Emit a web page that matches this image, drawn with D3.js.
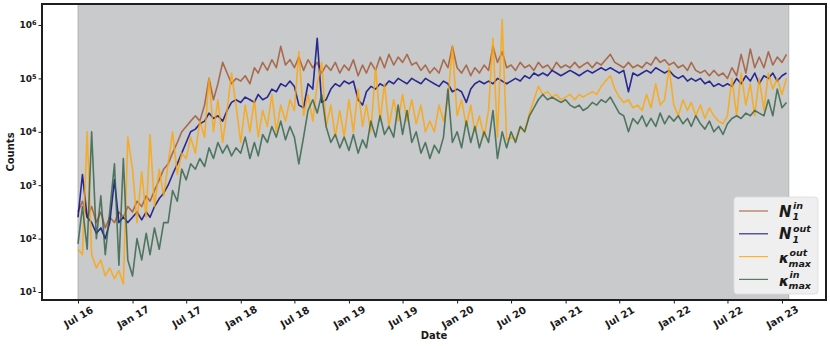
<!DOCTYPE html>
<html>
<head>
<meta charset="utf-8">
<script src="https://cdn.jsdelivr.net/npm/d3@7"></script>
<style>
  body { margin: 0; background: #fff; }
  svg text { font-family: "DejaVu Sans", sans-serif; font-weight: bold; fill: #1a1a1a; }
</style>
</head>
<body>
<svg id="chart" width="830" height="346"></svg>
<script>
// values are log10(counts), one per half month (1st and 16th), Jul 2016 .. Jan 2023
var nInExp = [
  2.5, 2.7, 2.4, 2.6, 2.3, 2.5, 2.2, 2.4, 2.3, 2.5, 2.4, 2.6,        // H2 2016
  2.5, 2.7, 2.6, 2.8, 2.7, 2.9, 3.1, 3.3, 3.4, 3.6, 3.8, 4.0,        // H1 2017
  4.1, 4.2, 4.3, 4.2, 4.5, 5.0, 4.6, 4.9, 5.3, 5.1, 4.9, 5.0,        // H2 2017
  4.95, 5.05, 4.9, 5.2, 5.1, 5.3, 5.15, 5.35, 5.2, 5.6, 5.25, 5.35,  // H1 2018
  5.2, 5.4, 5.15, 5.35, 5.2, 5.3, 5.1, 5.25, 5.15, 5.3, 5.1, 5.25,   // H2 2018
  5.15, 5.35, 5.05, 5.25, 5.1, 5.3, 5.15, 5.4, 5.2, 5.45, 5.25, 5.4, // H1 2019
  5.3, 5.45, 5.25, 5.3, 5.15, 5.25, 5.1, 5.2, 5.1, 5.35, 5.2, 5.6,   // H2 2019
  5.2, 5.1, 5.25, 5.05, 5.2, 5.1, 5.25, 5.15, 5.6, 5.3, 5.5, 5.2,    // H1 2020
  5.25, 5.15, 5.3, 5.2, 5.25, 5.15, 5.3, 5.2, 5.25, 5.15, 5.3, 5.2,  // H2 2020
  5.25, 5.2, 5.3, 5.2, 5.25, 5.3, 5.2, 5.3, 5.25, 5.35, 5.45, 5.3,   // H1 2021
  5.25, 5.2, 5.3, 5.2, 5.25, 5.2, 5.3, 5.25, 5.4, 5.3, 5.35, 5.25,   // H2 2021
  5.3, 5.2, 5.25, 5.15, 5.3, 5.15, 5.1, 5.15, 5.05, 5.15, 5.05, 5.1, // H1 2022
  5.0, 5.2, 5.05, 5.45, 5.1, 5.55, 5.2, 5.4, 5.2, 5.5, 5.25, 5.4,    // H2 2022
  5.3, 5.45                                                          // Jan 2023
];
var nOutExp = [
  2.4, 3.2, 2.4, 2.3, 2.1, 2.2, 2.0, 2.3, 3.1, 2.3, 2.4, 2.3,
  2.4, 2.5, 2.35, 2.5, 2.4, 2.6, 2.75, 2.85, 3.0, 3.2, 3.4, 3.6,
  3.8, 4.0, 4.05, 4.15, 4.2, 4.35, 4.25, 4.3, 4.2, 4.4, 4.55, 4.6,
  4.55, 4.65, 4.6, 4.55, 4.7, 4.6, 4.65, 4.8, 4.75, 4.9, 4.85, 4.95,
  4.85, 4.5, 4.45, 4.9, 4.8, 5.75, 4.55, 4.6, 4.8, 4.9, 4.85, 4.95,
  4.9, 4.95, 4.6, 4.5, 4.75, 4.85, 4.8, 4.9, 4.85, 4.95, 4.9, 5.0,
  4.95, 4.9, 5.0, 4.95, 4.9, 5.0, 4.95, 4.9, 4.85, 4.95, 4.9, 4.75,
  4.8, 4.75, 4.55, 4.8, 4.9, 4.95, 4.9, 4.95, 4.9, 5.0, 4.95, 4.9,
  4.95, 5.0, 4.95, 5.05, 5.0, 5.1, 5.05, 5.1, 5.05, 5.15, 5.1, 5.05,
  5.1, 5.15, 5.1, 5.05, 5.1, 5.15, 5.1, 5.15, 5.2, 5.15, 5.2, 5.15,
  5.1, 5.15, 4.75, 5.1, 5.05, 5.1, 5.15, 5.1, 5.2, 5.15, 5.1, 5.15,
  5.05, 5.0, 5.05, 4.95, 5.0, 4.95, 5.0, 4.9, 4.95, 4.85, 4.9, 4.85,
  4.9, 4.85, 5.0, 4.9, 5.05, 4.95, 5.1, 4.9, 5.05, 5.0, 5.1, 4.95,
  5.05, 5.1
];
var kOutExp = [
  1.8, 1.7, 4.0, 1.7, 1.45, 1.6, 1.3, 1.45, 1.25, 1.4, 1.15, 3.9,
  3.3, 2.3, 3.25, 2.4, 3.95, 2.6, 3.3, 2.8, 3.4, 4.0, 3.2, 3.6,
  3.5, 3.9, 3.6, 4.2, 3.9, 5.0, 4.0, 4.6, 3.8, 4.4, 5.1, 4.5,
  3.8, 4.5, 4.0, 4.6, 3.9, 4.4, 4.1, 4.7, 4.0, 4.5, 4.2, 4.6,
  4.4, 5.5, 4.3, 4.7, 4.2, 4.9, 5.3, 4.1, 4.5, 3.9, 4.4, 3.9,
  4.6, 4.0, 4.8, 4.1, 4.5, 4.0, 5.2, 4.2, 4.9, 4.1, 4.6, 4.2,
  4.7, 4.2, 4.6, 4.15, 4.5, 4.0, 4.2, 4.0, 4.5, 4.2, 4.6, 5.6,
  4.3, 4.6, 4.1, 4.5, 4.0, 4.3, 3.9, 4.4, 5.75, 3.9, 6.1, 3.85,
  3.9, 3.85, 4.1, 4.0, 4.35, 4.6, 4.85, 4.7, 4.75, 4.65, 4.7, 4.6,
  4.65, 4.7, 4.6, 4.7, 4.65, 4.7, 4.75, 4.7, 4.85, 4.95, 5.05, 4.8,
  4.65, 4.55, 4.6, 4.45, 4.5, 4.4, 4.7, 4.45, 4.9, 4.5, 4.6, 5.2,
  4.5, 4.3, 4.6, 4.4, 4.55, 4.3, 4.5, 4.25, 4.45, 4.3, 4.2, 4.15,
  4.3, 5.0, 4.3, 5.1, 4.5, 4.9, 4.3, 5.0, 4.4, 5.1, 4.8, 5.0,
  4.7, 5.0
];
var kInExp = [
  1.9, 2.6, 1.8, 4.0, 2.0, 2.8, 1.7, 2.5, 3.4, 1.5, 3.5, 1.6,
  1.3, 2.0, 1.6, 2.1, 1.7, 2.2, 1.8, 2.3, 2.3, 2.9, 2.7, 3.3,
  3.1, 3.4, 3.3, 3.5, 3.35, 3.7, 3.5, 3.8, 3.6, 3.75, 3.55, 3.7,
  3.6, 3.9, 3.5, 3.8, 3.55, 3.95, 3.8, 4.1, 3.9, 4.2, 3.85, 4.1,
  3.9, 3.4, 3.9, 4.4, 4.6, 4.35, 4.7, 4.1, 3.8, 3.95, 3.7, 3.9,
  3.65, 3.95, 3.6, 3.85, 3.7, 4.2, 3.9, 4.3, 3.95, 4.1, 3.9, 4.5,
  3.95, 4.4, 3.8, 4.0, 3.6, 3.8, 3.5, 3.75, 3.6, 3.9, 4.8, 3.8,
  4.0, 3.7, 4.2, 3.8, 4.1, 3.7, 4.0, 3.8, 4.4, 3.5, 4.0, 3.7,
  4.0, 3.8, 4.1, 4.0, 4.3, 4.45, 4.6, 4.7, 4.6, 4.65, 4.6, 4.55,
  4.6, 4.5, 4.45, 4.5, 4.4, 4.45, 4.55, 4.5, 4.6, 4.55, 4.65, 4.5,
  4.35, 4.3, 4.0, 4.25, 4.15, 4.3, 4.1, 4.25, 4.1, 4.35, 4.15, 4.3,
  4.2, 4.3, 4.15, 4.25, 4.1, 4.3, 4.15, 4.05, 4.2, 4.0, 4.1, 3.95,
  4.15, 4.25, 4.3, 4.25, 4.35, 4.3, 4.4, 4.35, 4.3, 4.6, 4.3, 4.8,
  4.45, 4.55
];

var xTickDates = ["2016-07-01", "2017-01-01", "2017-07-01", "2018-01-01", "2018-07-01",
  "2019-01-01", "2019-07-01", "2020-01-01", "2020-07-01", "2021-01-01", "2021-07-01",
  "2022-01-01", "2022-07-01", "2023-01-01"];
var yTickValues = [1e1, 1e2, 1e3, 1e4, 1e5, 1e6];

// sample dates: 1st and 16th of each month
var sampleDates = [];
d3.utcMonth.range(new Date(Date.UTC(2016, 6, 1)), new Date(Date.UTC(2023, 1, 1))).forEach(function(m) {
  sampleDates.push(m);
  sampleDates.push(d3.utcDay.offset(m, 15));
});

var series = [
  { exps: nInExp,  color: "#a0522d", main: "N", sup: "in",  sub: "1" },
  { exps: nOutExp, color: "#000080", main: "N", sup: "out", sub: "1" },
  { exps: kOutExp, color: "#ffa500", main: "\u03ba", sup: "out", sub: "max" },
  { exps: kInExp,  color: "#2f5f45", main: "\u03ba", sup: "in",  sub: "max" }
];

var plot = { left: 42, right: 826, top: 4, bottom: 300 };
var parse = d3.utcParse("%Y-%m-%d");

var svg = d3.select("#chart");

var x = d3.scaleUtc()
  .domain([parse("2016-07-01"), parse("2023-01-01")])
  .range([78, 782]);
var y = d3.scaleLog()
  .domain([1e1, 1e6])
  .range([292, 25]);

svg.append("clipPath").attr("id", "clip")
  .append("rect")
  .attr("x", plot.left).attr("y", plot.top)
  .attr("width", plot.right - plot.left).attr("height", plot.bottom - plot.top);

// shaded span
var spanStart = parse("2016-07-01"), spanEnd = parse("2023-01-24");
svg.append("rect")
  .attr("x", x(spanStart)).attr("y", plot.top)
  .attr("width", x(spanEnd) - x(spanStart)).attr("height", plot.bottom - plot.top)
  .attr("fill", "#c9cacc").attr("stroke", "#ababab").attr("stroke-width", 0.8);

var line = d3.line()
  .x(function(d) { return x(d.date); })
  .y(function(d) { return y(d.value); });

var lines = svg.append("g").attr("clip-path", "url(#clip)");
series.forEach(function(s) {
  var pts = s.exps.map(function(e, i) { return { date: sampleDates[i], value: Math.pow(10, e) }; });
  lines.append("path")
    .datum(pts)
    .attr("d", line)
    .attr("fill", "none")
    .attr("stroke", s.color)
    .attr("stroke-opacity", 0.8)
    .attr("stroke-width", 1.6)
    .attr("stroke-linejoin", "round");
});

// y axis
var gy = svg.append("g")
  .attr("transform", "translate(" + plot.left + ",0)")
  .attr("color", "#1a1a1a")
  .call(d3.axisLeft(y).tickValues(yTickValues).tickSize(3.5).tickPadding(2)
    .tickFormat(function() { return "10"; }));
gy.select(".domain").remove();
gy.selectAll(".tick text")
  .attr("font-size", 9)
  .append("tspan")
  .attr("dy", "-0.5em")
  .attr("font-size", 6.5)
  .text(function(d) { return Math.round(Math.log10(d)); });

// x axis
var gx = svg.append("g")
  .attr("transform", "translate(0," + plot.bottom + ")")
  .attr("color", "#1a1a1a")
  .call(d3.axisBottom(x).tickValues(xTickDates.map(parse)).tickSize(3.5)
    .tickFormat(d3.utcFormat("%b %y")));
gx.select(".domain").remove();
gx.selectAll(".tick text")
  .attr("y", 0)
  .attr("dy", "0.35em")
  .attr("font-size", 10)
  .attr("text-anchor", "middle")
  .attr("transform", "translate(0,17) rotate(-30)");

// frame
svg.append("rect")
  .attr("x", plot.left).attr("y", plot.top)
  .attr("width", plot.right - plot.left).attr("height", plot.bottom - plot.top)
  .attr("fill", "none").attr("stroke", "#1e1e1e").attr("stroke-width", 2);

// axis titles
svg.append("text")
  .attr("x", (plot.left + plot.right) / 2).attr("y", 339)
  .attr("text-anchor", "middle").attr("font-size", 10)
  .text("Date");
svg.append("text")
  .attr("transform", "translate(14,152) rotate(-90)")
  .attr("text-anchor", "middle").attr("font-size", 10)
  .text("Counts");

// legend
var legend = svg.append("g");
legend.append("rect")
  .attr("x", 734).attr("y", 197).attr("width", 84).attr("height", 97).attr("rx", 3)
  .attr("fill", "#efefef").attr("stroke", "#dcdcdc").attr("stroke-width", 0.8);
series.forEach(function(s, i) {
  var ly = 211 + i * 22.8;
  legend.append("line")
    .attr("x1", 739).attr("x2", 768).attr("y1", ly).attr("y2", ly)
    .attr("stroke", s.color).attr("stroke-opacity", 0.8).attr("stroke-width", 1.2);
  var isN = s.main === "N";
  var base = ly + (isN ? 5.5 : 6.5);
  var subX = isN ? 792.5 : 788.5;
  legend.append("text")
    .attr("x", 779).attr("y", base)
    .attr("font-size", isN ? 15 : 14).attr("font-style", "italic")
    .text(s.main);
  legend.append("text")
    .attr("x", subX + (isN ? 0.5 : 1)).attr("y", base - 7.5)
    .attr("font-size", 9.5).attr("font-style", "italic")
    .text(s.sup);
  legend.append("text")
    .attr("x", subX).attr("y", base + 3.5)
    .attr("font-size", 9.5).attr("font-style", "italic")
    .text(s.sub);
});
</script>
</body>
</html>
